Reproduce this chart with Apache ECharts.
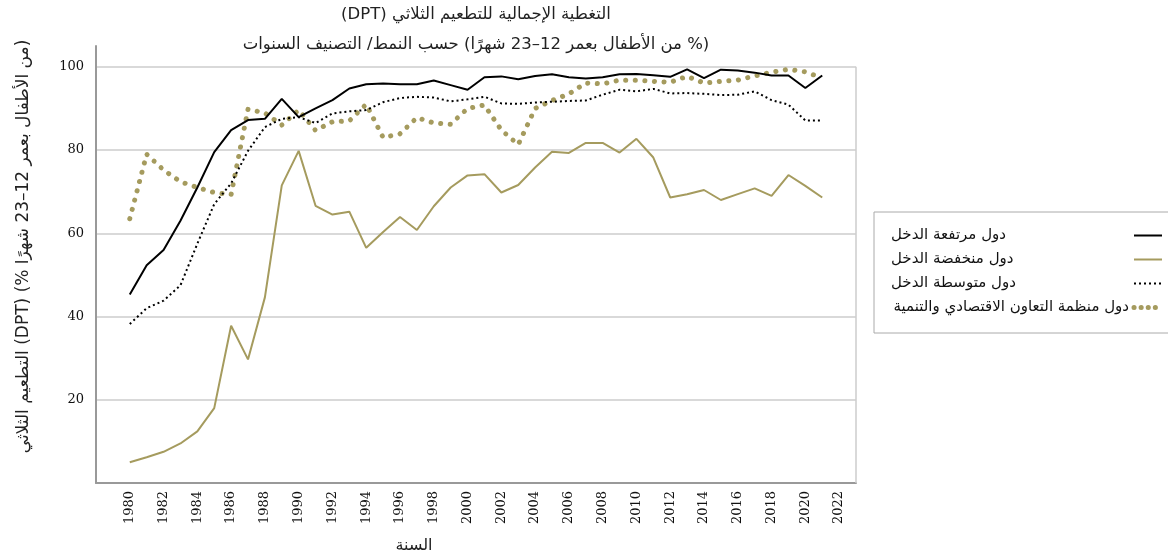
<!DOCTYPE html>
<html lang="ar">
<head>
    <meta charset="utf-8">
    <title>DPT</title>
    <script src="https://cdn.jsdelivr.net/npm/echarts/dist/echarts.min.js"></script>
    <style>
        body { margin: 0; background: #fff; }
        #chart { width: 1168px; height: 559px; }
    </style>
</head>
<body>
<div id="chart" dir="rtl"></div>
<script type="text/javascript">
    // السنوات وقيم التغطية (%)
    var years = [1980, 1981, 1982, 1983, 1984, 1985, 1986, 1987, 1988, 1989,
        1990, 1991, 1992, 1993, 1994, 1995, 1996, 1997, 1998, 1999,
        2000, 2001, 2002, 2003, 2004, 2005, 2006, 2007, 2008, 2009,
        2010, 2011, 2012, 2013, 2014, 2015, 2016, 2017, 2018, 2019,
        2020, 2021];

    var highIncome = [45.3, 52.3, 56.0, 63.0, 71.0, 79.5, 84.8, 87.2, 87.5, 92.3,
        87.9, 90.0, 92.0, 94.8, 95.8, 96.0, 95.8, 95.8, 96.7, 95.6,
        94.5, 97.5, 97.7, 97.0, 97.8, 98.2, 97.5, 97.2, 97.5, 98.2,
        98.3, 98.0, 97.6, 99.4, 97.3, 99.3, 99.1, 98.6, 97.9, 97.9,
        94.9, 97.9];

    var lowIncome = [5.0, 6.2, 7.5, 9.5, 12.4, 18.0, 37.8, 29.7, 44.6, 71.5,
        79.8, 66.6, 64.5, 65.2, 56.5, 60.3, 63.9, 60.8, 66.5, 71.0,
        73.9, 74.2, 69.8, 71.6, 75.8, 79.6, 79.3, 81.7, 81.7, 79.4,
        82.7, 78.2, 68.6, 69.4, 70.4, 68.0, 69.4, 70.8, 69.0, 74.0,
        71.4, 68.6];

    var middleIncome = [38.2, 42.0, 43.8, 47.5, 57.5, 67.0, 72.0, 79.8, 85.5, 87.5,
        87.9, 86.5, 88.8, 89.3, 89.6, 91.5, 92.5, 92.8, 92.6, 91.7,
        92.2, 92.8, 91.2, 91.1, 91.4, 91.6, 91.8, 91.9, 93.3, 94.5,
        94.1, 94.7, 93.6, 93.7, 93.5, 93.2, 93.3, 94.1, 92.0, 90.9,
        87.1, 87.1];

    var oecd = [63.5, 79.0, 75.2, 72.4, 71.0, 69.8, 69.3, 89.8, 88.9, 86.0,
        89.6, 84.7, 86.8, 87.0, 91.0, 83.0, 83.9, 87.8, 86.5, 86.2,
        90.0, 90.8, 84.8, 81.3, 90.0, 91.9, 93.5, 96.1, 95.9, 96.8,
        96.8, 96.5, 96.3, 97.7, 96.1, 96.5, 96.8, 97.8, 98.7, 99.4,
        98.8, 97.3];

    var seriesNames = ['دول مرتفعة الدخل', 'دول منخفضة الدخل', 'دول متوسطة الدخل', 'دول منظمة التعاون الاقتصادي والتنمية'];
    var yTicks = [20, 40, 60, 80, 100];

    var olive = '#a59b5e';
    var arFont = '"DejaVu Sans", "Noto Sans", sans-serif';
    var numFont = '"DejaVu Serif", serif';

    function pairs(vals)
    {
        return years.map(function (y, i) { return [y, vals[i]]; });
    }

    const chart = echarts.init(document.getElementById('chart'));

    const option = {
        animation: false,
        backgroundColor: '#fff',
        title: {
            text: 'التغطية الإجمالية للتطعيم الثلاثي (DPT)\n(% من الأطفال بعمر 12–23 شهرًا) حسب النمط/ التصنيف السنوات',
            left: 476,
            textAlign: 'center',
            top: 0,
            padding: 0,
            textStyle: {
                fontFamily: arFont,
                fontSize: 16.5,
                fontWeight: 'normal',
                color: '#222',
                lineHeight: 30
            }
        },
        legend: {
            orient: 'vertical',
            left: 874,
            top: 212,
            align: 'right',
            itemWidth: 28,
            itemHeight: 14,
            itemGap: 9,
            padding: [16, 12, 18, 17],
            backgroundColor: '#fff',
            borderColor: '#aaa',
            borderWidth: 1,
            borderRadius: 0,
            data: [
                seriesNames[0],
                seriesNames[1],
                seriesNames[2],
                {
                    name: seriesNames[3],
                    lineStyle: {color: olive, width: 5, type: [0.1, 7], cap: 'round'}
                }
            ],
            itemStyle: {color: 'transparent', borderColor: 'transparent', borderWidth: 0},
            formatter: function (name)
            {
                return name === seriesNames[3] ? '{l|' + name + '}' : '{w|' + name + '}';
            },
            textStyle: {
                fontFamily: arFont,
                fontSize: 15,
                color: '#111',
                rich: {
                    w: {width: 238, align: 'left', fontFamily: arFont, fontSize: 15, color: '#111'},
                    l: {fontFamily: arFont, fontSize: 15, color: '#111'}
                }
            }
        },
        grid: {
            left: 96,
            right: 312,
            top: 46,
            bottom: 76
        },
        xAxis: {
            type: 'value',
            min: 1978,
            max: 2023,
            interval: 2,
            name: 'السنة',
            nameLocation: 'middle',
            nameGap: 55,
            nameTextStyle: {
                fontFamily: arFont,
                fontSize: 16,
                color: '#222',
                padding: [0, 124, 0, 0]
            },
            axisLine: {lineStyle: {color: '#999', width: 2}},
            axisTick: {show: false},
            splitLine: {show: false},
            axisLabel: {
                rotate: 90,
                margin: 8,
                showMinLabel: false,
                showMaxLabel: false,
                fontFamily: numFont,
                fontSize: 13,
                color: '#111',
                formatter: function (v) { return String(v); }
            }
        },
        yAxis: {
            type: 'value',
            min: 0,
            max: 105,
            interval: 20,
            name: '(من الأطفال بعمر 12–23 شهرًا %) (DPT) التطعيم الثلاثي',
            nameLocation: 'middle',
            nameGap: 64,
            nameTextStyle: {
                fontFamily: arFont,
                fontSize: 17,
                color: '#222',
                padding: [0, 0, 0, 36]
            },
            axisLine: {show: true, lineStyle: {color: '#999', width: 2}},
            axisTick: {show: false},
            splitLine: {
                show: true,
                showMinLine: false,
                showMaxLine: false,
                lineStyle: {color: '#ccc', width: 1.5}
            },
            axisLabel: {
                margin: 12,
                showMinLabel: false,
                showMaxLabel: false,
                fontFamily: numFont,
                fontSize: 13,
                color: '#111',
                formatter: function (v) { return yTicks.indexOf(v) >= 0 ? String(v) : ''; }
            }
        },
        series: [
            {
                name: seriesNames[0],
                type: 'line',
                data: pairs(highIncome),
                symbol: 'none',
                z: 4,
                lineStyle: {color: '#000', width: 2},
                itemStyle: {color: '#000'},
                markLine: {
                    silent: true,
                    symbol: 'none',
                    label: {show: false},
                    lineStyle: {color: '#ccc', width: 1.5, type: 'solid'},
                    data: [[{coord: [2023, 0]}, {coord: [2023, 100]}]]
                }
            },
            {
                name: seriesNames[1],
                type: 'line',
                data: pairs(lowIncome),
                symbol: 'none',
                z: 3,
                lineStyle: {color: olive, width: 2},
                itemStyle: {color: olive}
            },
            {
                name: seriesNames[2],
                type: 'line',
                data: pairs(middleIncome),
                symbol: 'none',
                z: 3,
                lineStyle: {color: '#000', width: 2, type: [2, 3]},
                itemStyle: {color: '#000'}
            },
            {
                name: seriesNames[3],
                type: 'line',
                data: pairs(oecd),
                symbol: 'none',
                z: 2,
                lineStyle: {color: olive, width: 5, type: [0.1, 9.5], cap: 'round'},
                itemStyle: {color: olive}
            }
        ]
    };

    chart.setOption(option);
</script>
</body>
</html>
